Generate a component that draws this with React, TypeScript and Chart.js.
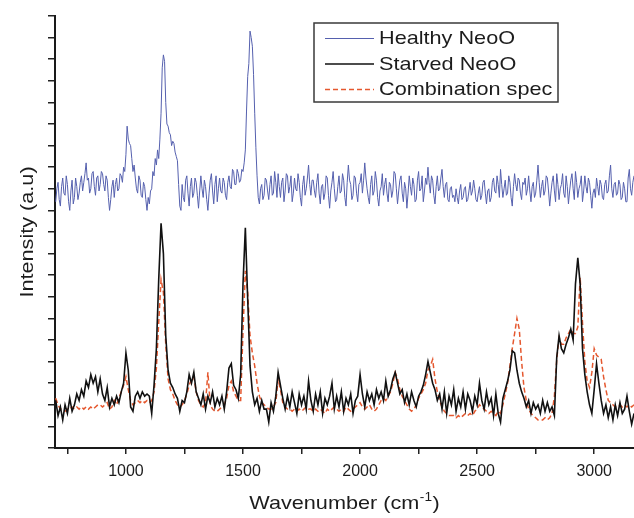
import React, { useEffect, useRef } from "react";
import { Chart, registerables } from "chart.js";

Chart.register(...registerables);

// ---------- data ----------
// grid for the starved / combination spectra (cm-1)
const wavenumbers = [
  700, 710, 720, 730, 740, 750, 760, 770, 780, 790,
  800, 810, 820, 830, 840, 850, 860, 870, 880, 890,
  900, 910, 920, 930, 940, 950, 960, 970, 980, 990,
  1000, 1010, 1020, 1030, 1040, 1050, 1060, 1070, 1080, 1090,
  1100, 1110, 1120, 1130, 1140, 1150, 1160, 1170, 1180, 1190,
  1200, 1210, 1220, 1230, 1240, 1250, 1260, 1270, 1280, 1290,
  1300, 1310, 1320, 1330, 1340, 1350, 1360, 1370, 1380, 1390,
  1400, 1410, 1420, 1430, 1440, 1450, 1460, 1470, 1480, 1490,
  1500, 1510, 1520, 1530, 1540, 1550, 1560, 1570, 1580, 1590,
  1600, 1610, 1620, 1630, 1640, 1650, 1660, 1670, 1680, 1690,
  1700, 1710, 1720, 1730, 1740, 1750, 1760, 1770, 1780, 1790,
  1800, 1810, 1820, 1830, 1840, 1850, 1860, 1870, 1880, 1890,
  1900, 1910, 1920, 1930, 1940, 1950, 1960, 1970, 1980, 1990,
  2000, 2010, 2020, 2030, 2040, 2050, 2060, 2070, 2080, 2090,
  2100, 2110, 2120, 2130, 2140, 2150, 2160, 2170, 2180, 2190,
  2200, 2210, 2220, 2230, 2240, 2250, 2260, 2270, 2280, 2290,
  2300, 2310, 2320, 2330, 2340, 2350, 2360, 2370, 2380, 2390,
  2400, 2410, 2420, 2430, 2440, 2450, 2460, 2470, 2480, 2490,
  2500, 2510, 2520, 2530, 2540, 2550, 2560, 2570, 2580, 2590,
  2600, 2610, 2620, 2630, 2640, 2650, 2660, 2670, 2680, 2690,
  2700, 2710, 2720, 2730, 2740, 2750, 2760, 2770, 2780, 2790,
  2800, 2810, 2820, 2830, 2840, 2850, 2860, 2870, 2880, 2890,
  2900, 2910, 2920, 2930, 2940, 2950, 2960, 2970, 2980, 2990,
  3000, 3010, 3020, 3030, 3040, 3050, 3060, 3070, 3080, 3090,
  3100, 3110, 3120, 3130, 3140, 3150, 3160, 3170,
];

// finer grid for the healthy spectrum (cm-1)
const healthyWavenumbers = [
  700, 705, 710, 715, 720, 725, 730, 735, 740, 745, 750, 755, 760, 765, 770, 775, 780, 785, 790, 795,
  800, 805, 810, 815, 820, 825, 830, 835, 840, 845, 850, 855, 860, 865, 870, 875, 880, 885, 890, 895,
  900, 905, 910, 915, 920, 925, 930, 935, 940, 945, 950, 955, 960, 965, 970, 975, 980, 985, 990, 995,
  1000, 1005, 1010, 1015, 1020, 1025, 1030, 1035, 1040, 1045, 1050, 1055, 1060, 1065, 1070, 1075, 1080, 1085, 1090, 1095,
  1100, 1105, 1110, 1115, 1120, 1125, 1130, 1135, 1140, 1145, 1150, 1155, 1160, 1165, 1170, 1175, 1180, 1185, 1190, 1195,
  1200, 1205, 1210, 1215, 1220, 1225, 1230, 1235, 1240, 1245, 1250, 1255, 1260, 1265, 1270, 1275, 1280, 1285, 1290, 1295,
  1300, 1305, 1310, 1315, 1320, 1325, 1330, 1335, 1340, 1345, 1350, 1355, 1360, 1365, 1370, 1375, 1380, 1385, 1390, 1395,
  1400, 1405, 1410, 1415, 1420, 1425, 1430, 1435, 1440, 1445, 1450, 1455, 1460, 1465, 1470, 1475, 1480, 1485, 1490, 1495,
  1500, 1505, 1510, 1515, 1520, 1525, 1530, 1535, 1540, 1545, 1550, 1555, 1560, 1565, 1570, 1575, 1580, 1585, 1590, 1595,
  1600, 1605, 1610, 1615, 1620, 1625, 1630, 1635, 1640, 1645, 1650, 1655, 1660, 1665, 1670, 1675, 1680, 1685, 1690, 1695,
  1700, 1705, 1710, 1715, 1720, 1725, 1730, 1735, 1740, 1745, 1750, 1755, 1760, 1765, 1770, 1775, 1780, 1785, 1790, 1795,
  1800, 1805, 1810, 1815, 1820, 1825, 1830, 1835, 1840, 1845, 1850, 1855, 1860, 1865, 1870, 1875, 1880, 1885, 1890, 1895,
  1900, 1905, 1910, 1915, 1920, 1925, 1930, 1935, 1940, 1945, 1950, 1955, 1960, 1965, 1970, 1975, 1980, 1985, 1990, 1995,
  2000, 2005, 2010, 2015, 2020, 2025, 2030, 2035, 2040, 2045, 2050, 2055, 2060, 2065, 2070, 2075, 2080, 2085, 2090, 2095,
  2100, 2105, 2110, 2115, 2120, 2125, 2130, 2135, 2140, 2145, 2150, 2155, 2160, 2165, 2170, 2175, 2180, 2185, 2190, 2195,
  2200, 2205, 2210, 2215, 2220, 2225, 2230, 2235, 2240, 2245, 2250, 2255, 2260, 2265, 2270, 2275, 2280, 2285, 2290, 2295,
  2300, 2305, 2310, 2315, 2320, 2325, 2330, 2335, 2340, 2345, 2350, 2355, 2360, 2365, 2370, 2375, 2380, 2385, 2390, 2395,
  2400, 2405, 2410, 2415, 2420, 2425, 2430, 2435, 2440, 2445, 2450, 2455, 2460, 2465, 2470, 2475, 2480, 2485, 2490, 2495,
  2500, 2505, 2510, 2515, 2520, 2525, 2530, 2535, 2540, 2545, 2550, 2555, 2560, 2565, 2570, 2575, 2580, 2585, 2590, 2595,
  2600, 2605, 2610, 2615, 2620, 2625, 2630, 2635, 2640, 2645, 2650, 2655, 2660, 2665, 2670, 2675, 2680, 2685, 2690, 2695,
  2700, 2705, 2710, 2715, 2720, 2725, 2730, 2735, 2740, 2745, 2750, 2755, 2760, 2765, 2770, 2775, 2780, 2785, 2790, 2795,
  2800, 2805, 2810, 2815, 2820, 2825, 2830, 2835, 2840, 2845, 2850, 2855, 2860, 2865, 2870, 2875, 2880, 2885, 2890, 2895,
  2900, 2905, 2910, 2915, 2920, 2925, 2930, 2935, 2940, 2945, 2950, 2955, 2960, 2965, 2970, 2975, 2980, 2985, 2990, 2995,
  3000, 3005, 3010, 3015, 3020, 3025, 3030, 3035, 3040, 3045, 3050, 3055, 3060, 3065, 3070, 3075, 3080, 3085, 3090, 3095,
  3100, 3105, 3110, 3115, 3120, 3125, 3130, 3135, 3140, 3145, 3150, 3155, 3160, 3165, 3170,
];

const healthy = [
  11.4, 12.0, 12.3, 11.5, 11.2, 12.1, 12.5, 11.8, 11.7, 12.6, 12.2, 11.4, 11.0, 11.9, 12.4, 11.3, 11.6, 12.5, 12.1, 11.5,
  11.8, 12.3, 12.6, 11.9, 12.3, 12.7, 13.2, 12.4, 12.5, 11.8, 12.0, 12.7, 12.8, 12.1, 11.7, 12.5, 12.6, 11.9, 12.2, 12.8,
  12.7, 12.2, 11.9, 12.6, 12.4, 11.6, 11.0, 11.5, 12.1, 12.4, 11.6, 12.2, 12.5, 11.9, 12.0, 12.7, 12.6, 12.3, 13.0, 12.8,
  13.6, 14.9, 14.3, 14.1, 14.0, 13.4, 12.8, 13.1, 12.5, 12.0, 11.8, 12.6, 12.4, 11.7, 11.6, 12.3, 12.1, 11.5, 11.0, 11.6,
  11.3, 11.9, 12.0, 12.8, 12.6, 13.4, 13.1, 13.8, 13.4, 14.3, 15.5, 17.6, 18.2, 17.9, 16.0, 15.0, 14.9, 14.6, 14.5, 14.0,
  14.2, 14.1, 13.7, 13.5, 13.3, 12.2, 11.2, 11.0, 12.2, 11.6, 11.4, 12.4, 12.6, 11.8, 11.2, 12.1, 12.5, 11.6, 11.8, 12.5,
  12.3, 11.7, 11.1, 11.9, 12.6, 12.0, 11.6, 12.4, 12.1, 11.5, 11.0, 11.8, 12.4, 12.7, 11.9, 11.3, 12.2, 12.6, 11.4, 12.0,
  12.5, 11.9, 11.8, 12.5, 12.3, 11.7, 11.5, 12.3, 12.6, 12.1, 12.0, 12.9, 12.8, 12.2, 12.2, 12.9, 12.7, 12.3, 12.4, 12.9,
  12.8, 13.2, 13.8, 15.6, 17.2, 17.8, 19.3, 19.0, 18.6, 17.3, 15.5, 13.9, 12.6, 11.6, 11.3, 12.0, 12.2, 11.5, 11.7, 12.5,
  12.4, 11.9, 11.5, 12.2, 12.6, 11.7, 11.8, 12.8, 12.3, 11.6, 12.7, 12.1, 11.6, 12.3, 12.5, 11.4, 11.9, 12.7, 12.6, 11.8,
  12.1, 12.6, 11.4, 11.8, 12.5, 12.0, 11.9, 12.7, 12.3, 11.6, 11.2, 12.2, 12.6, 11.7, 12.0, 12.5, 13.1, 12.2, 11.7, 12.4,
  12.4, 11.9, 11.6, 12.3, 12.7, 11.8, 11.3, 12.1, 12.2, 11.5, 11.8, 12.6, 12.5, 11.7, 11.1, 11.9, 12.3, 12.8, 12.0, 11.4,
  11.5, 12.1, 12.6, 11.8, 11.9, 12.7, 12.4, 11.6, 11.2, 12.3, 13.1, 12.4, 12.2, 11.5, 11.7, 12.6, 12.5, 11.8, 11.4, 12.2,
  12.3, 12.7, 11.8, 12.4, 13.2, 12.5, 12.0, 11.6, 11.3, 12.2, 12.6, 11.7, 11.9, 12.8, 12.4, 11.6, 11.2, 11.9, 12.1, 12.7,
  11.7, 12.2, 12.5, 11.8, 11.4, 12.3, 12.2, 11.6, 11.9, 12.8, 12.7, 12.0, 11.3, 11.9, 12.4, 12.6, 11.8, 11.4, 12.3, 12.0,
  11.1, 11.8, 12.6, 12.1, 11.7, 12.5, 12.2, 11.4, 11.5, 12.4, 12.8, 11.9, 12.0, 12.6, 11.4, 11.9, 12.5, 12.2, 13.0, 12.3,
  11.8, 12.6, 12.4, 11.7, 11.3, 12.1, 12.6, 11.9, 12.0, 12.5, 12.9, 12.1, 11.6, 12.2, 12.3, 11.5, 11.4, 12.0, 12.1, 11.6,
  11.7, 11.4, 12.0, 11.6, 11.3, 11.9, 12.2, 11.5, 11.6, 12.0, 12.1, 11.4, 11.5, 11.9, 12.3, 11.7, 11.9, 12.4, 12.0, 11.5,
  11.4, 11.8, 12.1, 11.5, 11.7, 12.3, 12.4, 11.8, 11.3, 11.9, 12.0, 11.4, 11.6, 12.3, 12.5, 11.9, 11.8, 12.6, 12.2, 11.6,
  12.9, 12.2, 11.6, 12.0, 12.4, 11.7, 11.8, 12.6, 12.3, 11.6, 11.2, 12.1, 12.7, 12.2, 11.9, 12.5, 12.4, 11.8, 11.5, 12.3,
  12.2, 12.5, 11.7, 12.0, 12.6, 11.9, 11.4, 12.1, 12.3, 11.6, 11.8, 12.4, 13.1, 12.3, 11.6, 12.1, 12.4, 11.7, 11.9, 12.6,
  12.5, 11.9, 11.2, 11.8, 12.3, 12.6, 11.9, 11.4, 12.7, 12.2, 11.5, 12.0, 12.2, 12.7, 11.8, 11.6, 12.6, 12.1, 11.3, 11.9,
  12.4, 12.7, 12.0, 11.5, 12.8, 12.3, 11.6, 12.0, 12.2, 12.6, 11.4, 11.9, 12.6, 12.1, 11.8, 12.5, 12.3, 11.7, 11.1, 11.8,
  12.0, 11.6, 12.5, 12.1, 11.7, 12.4, 12.2, 11.6, 11.5, 12.2, 12.4, 11.8, 11.9, 12.6, 13.1, 12.0, 11.6, 12.2, 12.3, 11.7,
  11.8, 12.4, 12.2, 11.5, 11.6, 12.3, 12.0, 11.4, 11.4, 12.5, 12.9, 12.0, 11.7, 12.3, 12.6,
];

const starved = [
  2.2, 1.5, 1.9, 1.3, 2.0, 1.6, 2.3, 1.7, 2.0, 2.5,
  2.2, 2.7, 2.4, 3.1, 2.8, 3.4, 3.0, 3.3, 2.6, 3.2,
  2.5, 2.2, 2.8, 1.9, 2.3, 2.0, 2.4, 2.1, 2.6, 3.0,
  4.4, 3.6, 1.9, 1.7, 2.4, 2.6, 2.3, 2.6, 2.4, 2.5,
  2.4, 1.6, 2.9, 4.6, 7.8, 10.4, 9.0, 5.2, 3.6, 3.0,
  2.8, 2.5, 2.3, 1.7, 2.2, 2.1, 2.6, 3.4, 3.0, 3.5,
  2.6, 2.3, 2.0, 2.5, 1.8, 2.4, 2.1, 2.6, 1.9, 2.3,
  2.0, 2.4, 1.8, 2.6, 3.7, 3.9, 2.9, 2.7, 2.3, 3.4,
  7.6, 10.2, 6.9, 3.8, 2.6, 2.0, 2.3, 1.7, 2.2, 1.8,
  1.8, 1.2, 2.1, 1.7, 2.4, 3.5, 2.9, 2.3, 1.8, 2.4,
  1.9, 2.6, 2.1, 1.6, 2.5, 2.0, 2.4, 1.8, 3.1, 2.2,
  1.7, 2.5, 2.0, 2.6, 1.6, 2.3, 2.0, 2.4, 3.0, 1.8,
  2.4, 1.9, 2.6, 1.7, 2.3, 2.0, 2.5, 1.6, 2.2, 2.4,
  3.4, 2.5, 1.9, 2.6, 2.2, 2.5, 2.0, 2.7, 2.3, 2.6,
  2.2, 3.1, 2.4, 2.7, 3.2, 3.5, 3.0, 2.5, 2.7, 2.1,
  2.5, 2.0, 2.6, 2.2, 1.9, 2.4, 2.6, 2.9, 3.4, 4.0,
  3.5, 3.0, 2.7, 2.2, 2.5, 1.8, 2.6, 1.6, 2.4, 2.0,
  2.7, 1.7, 2.3, 1.9, 2.6, 1.8, 2.5, 2.2, 1.7, 2.4,
  2.0, 3.0, 2.2, 1.8, 2.6, 2.0, 2.3, 1.5, 2.5, 1.6,
  1.2, 2.3, 2.7, 3.1, 3.6, 4.5, 4.4, 3.6, 3.0, 2.6,
  2.3, 1.9, 2.2, 1.6, 2.1, 1.8, 2.0, 1.6, 2.2, 1.7,
  2.1, 1.7, 1.9, 1.5, 4.2, 5.2, 4.6, 4.4, 4.8, 5.1,
  5.5, 5.0, 7.6, 8.8, 7.6, 4.6, 3.4, 2.6, 2.0, 1.6,
  2.7, 3.9, 3.0, 2.2, 1.6, 2.0, 1.4, 1.9, 1.3, 2.0,
  1.5, 2.1, 1.6, 1.8, 2.4, 1.7, 1.1, 1.6,
];

const combination = [
  2.3, 2.0, 1.8, 1.8, 1.7, 1.8, 1.8, 1.9, 1.8, 1.9,
  1.8, 1.9, 1.8, 1.9, 1.8, 1.9, 1.8, 1.9, 2.0, 2.0,
  1.9, 2.0, 2.1, 1.8, 1.9, 2.2, 2.0, 2.3, 2.6, 2.9,
  3.3, 2.7, 2.2, 2.0, 2.1, 2.2, 2.1, 2.2, 2.1, 2.2,
  2.1, 2.2, 2.6, 3.7, 5.8, 7.8, 7.2, 4.8, 3.2, 2.7,
  2.5, 2.2, 2.0, 1.9, 2.0, 2.2, 2.5, 2.9, 3.2, 3.3,
  2.6, 2.2, 2.0, 1.9, 2.1, 3.5, 2.0, 1.8, 1.7, 1.7,
  1.8, 1.9, 2.0, 2.3, 2.9, 3.1, 2.6, 2.4, 2.2, 2.2,
  5.4, 8.2, 7.2, 5.2, 4.4, 3.8, 3.0, 2.4, 2.1, 2.0,
  1.9, 1.8, 1.8, 1.9, 2.1, 3.2, 2.7, 2.1, 1.9, 1.8,
  1.8, 1.7, 1.8, 1.7, 1.8, 1.7, 1.8, 1.9, 1.8, 1.8,
  1.7, 1.8, 1.7, 1.8, 1.7, 1.6, 1.8, 1.7, 1.8, 1.9,
  1.8, 1.7, 1.8, 1.7, 1.9, 1.8, 1.7, 1.8, 1.9, 2.0,
  2.1, 1.9, 1.8, 1.9, 2.0, 1.8, 1.7, 1.8, 2.0, 2.2,
  2.3, 2.2, 2.4, 2.6, 3.0, 3.5, 3.2, 2.7, 2.4, 2.2,
  2.0, 1.8, 1.7, 1.8, 2.0, 2.3, 2.5, 2.7, 3.0, 3.6,
  3.8, 4.1, 3.2, 2.6, 2.2, 1.9, 1.7, 1.6, 1.5, 1.5,
  1.5, 1.4, 1.5, 1.4, 1.5, 1.6, 1.5, 1.6, 1.5, 1.7,
  1.8, 2.0, 1.9, 1.8, 1.7, 1.6, 1.7, 1.6, 1.5, 1.7,
  1.6, 2.0, 2.5, 3.0, 3.8, 4.6, 5.3, 6.0, 5.5, 4.0,
  2.8, 2.2, 1.8, 1.6, 1.5, 1.4, 1.3, 1.3, 1.3, 1.4,
  1.3, 1.4, 1.6, 2.4, 4.1, 5.1, 4.8, 4.8, 5.1, 5.3,
  5.5, 5.3, 5.3, 5.6, 7.9, 5.8, 4.0, 3.1, 2.8, 3.5,
  4.6, 4.3, 4.2, 4.1, 3.3, 2.7, 2.2, 2.1, 2.0, 1.9,
  1.9, 2.0, 1.9, 2.0, 1.9, 2.0, 1.9, 2.0,
];

const seriesLabels = ["Healthy NeoO", "Starved NeoO", "Combination spec"];
const xTickValues = [750, 1000, 1250, 1500, 1750, 2000, 2250, 2500, 2750, 3000];
const xLabelValues = [1000, 1500, 2000, 2500, 3000];
const yTickValues = [0, 1, 2, 3, 4, 5, 6, 7, 8, 9, 10, 11, 12, 13, 14, 15, 16, 17, 18, 19, 20];
const xMin = 697;
const xMax = 3170;
const xTitle = "Wavenumber (cm";
const xTitleSup = "-1";
const yTitle = "Intensity (a.u)";

// ---------- styles ----------
const FONT = "'Liberation Sans', Arial, Helvetica, sans-serif";
const STRETCH = 1.14;
const TEXT = "#1c1c1c";
const BLUE = "#5560ae";
const BLACK = "#111111";
const RED = "#e5582f";

function drawStretched(ctx: CanvasRenderingContext2D, text: string, x: number, y: number, size: number) {
  ctx.save();
  ctx.font = `${size}px ${FONT}`;
  ctx.translate(x, y);
  ctx.scale(STRETCH, 1);
  ctx.textAlign = "left";
  ctx.fillText(text, 0, 0);
  ctx.restore();
}
function widthStretched(ctx: CanvasRenderingContext2D, text: string, size: number) {
  ctx.save();
  ctx.font = `${size}px ${FONT}`;
  const w = ctx.measureText(text).width * STRETCH;
  ctx.restore();
  return w;
}

const overlayPlugin = {
  id: "overlay",
  afterDraw(chart: any) {
    const ctx: CanvasRenderingContext2D = chart.ctx;
    const area = chart.chartArea;
    ctx.save();
    ctx.fillStyle = TEXT;
    ctx.textBaseline = "alphabetic";

    // x title
    const mainW = widthStretched(ctx, xTitle, 19);
    const supW = widthStretched(ctx, xTitleSup, 12);
    const closeW = widthStretched(ctx, ")", 19);
    const total = mainW + supW + closeW + 1;
    const x0 = (area.left + area.right) / 2 - total / 2;
    const base = 509;
    drawStretched(ctx, xTitle, x0, base, 19);
    drawStretched(ctx, xTitleSup, x0 + mainW + 0.5, base - 8, 12);
    drawStretched(ctx, ")", x0 + mainW + supW + 1, base, 19);

    // y title
    ctx.save();
    ctx.translate(33, (area.top + area.bottom) / 2);
    ctx.rotate(-Math.PI / 2);
    const yw = widthStretched(ctx, yTitle, 19);
    drawStretched(ctx, yTitle, -yw / 2, 0, 19);
    ctx.restore();

    // legend
    const bx = 314, by = 23, bw = 244, bh = 79;
    ctx.fillStyle = "#ffffff";
    ctx.fillRect(bx, by, bw, bh);
    ctx.strokeStyle = "#3a3a3a";
    ctx.lineWidth = 1.5;
    ctx.strokeRect(bx, by, bw, bh);
    const rows = [38.5, 64, 89.5];
    const styles = [
      { color: BLUE, width: 1, dash: [] as number[] },
      { color: BLACK, width: 1.6, dash: [] as number[] },
      { color: RED, width: 1.5, dash: [5, 3] },
    ];
    seriesLabels.forEach((label, i) => {
      const y = rows[i];
      ctx.save();
      ctx.strokeStyle = styles[i].color;
      ctx.lineWidth = styles[i].width;
      ctx.setLineDash(styles[i].dash);
      ctx.beginPath();
      ctx.moveTo(325, y);
      ctx.lineTo(374, y);
      ctx.stroke();
      ctx.restore();
      ctx.fillStyle = TEXT;
      ctx.textBaseline = "middle";
      drawStretched(ctx, label, 379, y + 0.5, 19);
    });
    ctx.restore();
  },
};

export default function App() {
  const canvasRef = useRef<HTMLCanvasElement | null>(null);

  useEffect(() => {
    const canvas = canvasRef.current;
    if (!canvas) return;
    const toPoints = (xs: number[], ys: number[]) => xs.map((x, i) => ({ x, y: ys[i] }));
    const chart = new Chart(canvas, {
      type: "line",
      data: {
        datasets: [
          {
            label: seriesLabels[0],
            data: toPoints(healthyWavenumbers, healthy),
            borderColor: BLUE,
            borderWidth: 1,
            pointRadius: 0,
            tension: 0,
            order: 2,
          },
          {
            label: seriesLabels[1],
            data: toPoints(wavenumbers, starved),
            borderColor: BLACK,
            borderWidth: 1.6,
            pointRadius: 0,
            tension: 0,
            order: 0,
          },
          {
            label: seriesLabels[2],
            data: toPoints(wavenumbers, combination),
            borderColor: RED,
            borderWidth: 1.5,
            borderDash: [5, 3],
            pointRadius: 0,
            tension: 0,
            order: 1,
          },
        ],
      },
      options: {
        animation: false,
        responsive: false,
        devicePixelRatio: 1,
        layout: { padding: { top: 16, left: 0, right: 0, bottom: 0 } },
        plugins: {
          legend: { display: false },
          tooltip: { enabled: false },
          title: { display: false },
        },
        scales: {
          x: {
            type: "linear",
            min: xMin,
            max: xMax,
            afterBuildTicks: (s: any) => {
              s.ticks = xTickValues.map((v) => ({ value: v }));
            },
            afterFit: (s: any) => {
              s.height = 70;
            },
            ticks: {
              autoSkip: false,
              maxRotation: 0,
              padding: 8,
              color: TEXT,
              font: { family: FONT, size: 16 },
              callback: (v: any) => (xLabelValues.includes(Number(v)) ? String(v) : ""),
            },
            grid: {
              display: true,
              drawOnChartArea: false,
              drawTicks: true,
              tickLength: 6,
              color: "#222",
              lineWidth: 1.5,
            },
            border: { display: true, color: "#1a1a1a", width: 2 },
          },
          y: {
            type: "linear",
            min: 0,
            max: 20,
            afterBuildTicks: (s: any) => {
              s.ticks = yTickValues.map((v) => ({ value: v }));
            },
            afterFit: (s: any) => {
              s.width = 55;
            },
            ticks: {
              autoSkip: false,
              callback: () => "",
            },
            grid: {
              display: true,
              drawOnChartArea: false,
              drawTicks: true,
              tickLength: 7,
              color: "#222",
              lineWidth: 1.5,
            },
            border: { display: true, color: "#1a1a1a", width: 2 },
          },
        },
      },
      plugins: [overlayPlugin],
    } as any);
    return () => chart.destroy();
  }, []);

  return (
    <div style={{ position: "absolute", left: 0, top: 0, width: 634, height: 518, background: "#fff" }}>
      <canvas ref={canvasRef} width={634} height={518} style={{ display: "block", width: 634, height: 518 }} />
    </div>
  );
}
